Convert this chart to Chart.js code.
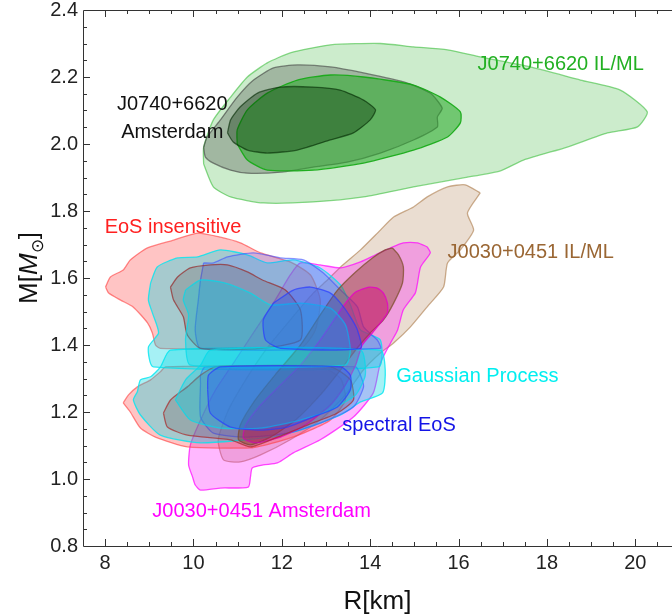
<!DOCTYPE html>
<html><head><meta charset="utf-8">
<script src="https://cdn.jsdelivr.net/npm/chart.js@4.4.1/dist/chart.umd.min.js"></script>
<style>html,body{margin:0;padding:0;background:#fff;}</style>
</head><body>
<canvas id="c" width="672" height="615"></canvas>
<script>
// ---- axis ticks ----
const xTicks = [8, 10, 12, 14, 16, 18, 20];
const yTicks = [0.8, 1.0, 1.2, 1.4, 1.6, 1.8, 2.0, 2.2, 2.4];

// ---- contours [R km, M Msun] ----
const j0740ILML_95 = [[10.23,1.94],[10.45,1.872],[10.84,1.842],[11.58,1.824],[12.71,1.827],[13.85,1.842],[14.98,1.872],[16.11,1.899],[16.95,1.92],[17.47,1.952],[18.46,1.991],[19.37,2.033],[20.05,2.051],[20.27,2.096],[19.66,2.161],[18.76,2.191],[17.62,2.23],[16.49,2.26],[15.75,2.281],[14.98,2.29],[14.23,2.30],[13.1,2.296],[12.19,2.272],[11.67,2.242],[11.22,2.20],[10.84,2.14],[10.45,2.072],[10.23,1.991]];
const j0740ILML_68 = [[10.99,2.0],[11.22,1.952],[11.67,1.922],[12.71,1.922],[13.85,1.943],[14.98,1.982],[15.75,2.021],[16.04,2.063],[16.04,2.096],[15.59,2.14],[14.98,2.176],[13.85,2.20],[13.1,2.206],[12.35,2.191],[11.67,2.152],[11.22,2.102],[10.99,2.042]];
const j0740Ams_95 = [[10.23,1.99],[10.27,1.961],[10.45,1.943],[10.84,1.922],[11.22,1.913],[11.97,1.916],[12.71,1.931],[13.48,1.946],[14.23,1.973],[14.98,2.012],[15.52,2.051],[15.52,2.081],[15.63,2.107],[15.36,2.152],[14.84,2.182],[13.85,2.212],[13.1,2.23],[12.35,2.236],[11.81,2.227],[11.36,2.191],[10.99,2.14],[10.61,2.072],[10.31,2.021]];
const j0740Ams_68 = [[10.77,2.033],[10.9,2.006],[11.22,1.982],[11.67,1.973],[12.35,1.982],[13.1,2.012],[13.62,2.033],[14.0,2.072],[14.12,2.102],[13.85,2.131],[13.32,2.161],[12.71,2.17],[11.97,2.17],[11.45,2.152],[11.06,2.111],[10.84,2.072]];

const j0030ILML_95 = [[16.49,1.854],[16.2,1.794],[16.34,1.743],[16.04,1.684],[15.75,1.645],[15.66,1.573],[15.29,1.514],[14.91,1.454],[14.53,1.406],[14.23,1.376],[13.85,1.326],[13.44,1.251],[12.87,1.176],[12.19,1.117],[11.52,1.072],[11.06,1.051],[10.68,1.057],[10.56,1.117],[10.79,1.206],[11.18,1.296],[11.63,1.385],[12.19,1.475],[12.71,1.555],[13.03,1.594],[13.33,1.633],[13.78,1.684],[14.23,1.743],[14.53,1.782],[14.98,1.812],[15.29,1.842],[15.75,1.872],[16.15,1.878]];
const j0030ILML_68 = [[14.5,1.69],[14.64,1.669],[14.75,1.633],[14.73,1.585],[14.53,1.525],[14.3,1.475],[14.0,1.436],[13.67,1.385],[13.33,1.326],[12.87,1.251],[12.31,1.176],[11.74,1.125],[11.29,1.102],[11.02,1.117],[11.06,1.161],[11.4,1.236],[11.85,1.311],[12.42,1.40],[12.87,1.49],[13.26,1.564],[13.67,1.618],[14.05,1.66],[14.34,1.684]];
const j0030Ams_95 = [[15.29,1.693],[15.07,1.705],[14.75,1.705],[14.46,1.69],[14.12,1.669],[13.78,1.648],[13.33,1.63],[12.87,1.639],[12.42,1.645],[12.19,1.609],[11.85,1.534],[11.4,1.445],[10.95,1.355],[10.5,1.266],[10.16,1.176],[9.93,1.102],[9.89,1.042],[9.98,1.006],[10.04,0.982],[10.16,0.967],[10.61,0.973],[11.24,0.976],[11.29,1.006],[11.33,1.033],[11.58,1.042],[11.9,1.048],[12.26,1.078],[12.87,1.117],[13.62,1.185],[14.07,1.257],[14.23,1.346],[14.46,1.406],[14.62,1.445],[14.75,1.505],[15.02,1.555],[15.07,1.585],[15.14,1.633],[15.36,1.675]];
const j0030Ams_68 = [[13.96,1.573],[14.16,1.57],[14.3,1.555],[14.39,1.525],[14.39,1.496],[14.23,1.466],[14.05,1.436],[13.82,1.40],[13.67,1.34],[13.44,1.281],[13.1,1.221],[12.53,1.161],[11.97,1.125],[11.4,1.108],[11.13,1.122],[11.18,1.161],[11.52,1.221],[11.97,1.281],[12.42,1.34],[12.87,1.415],[13.21,1.481],[13.44,1.525],[13.67,1.558]];

const eosIns95Hi = [[8.01,1.573],[8.12,1.603],[8.41,1.624],[8.57,1.654],[8.96,1.69],[9.55,1.713],[10.09,1.734],[10.61,1.722],[11.06,1.705],[11.52,1.675],[12.19,1.648],[12.65,1.609],[12.87,1.534],[12.76,1.445],[12.42,1.39],[9.25,1.39],[9.14,1.40],[9.07,1.436],[8.96,1.466],[8.64,1.513],[8.35,1.534],[8.08,1.555]];
const eosIns95Lo = [[8.41,1.227],[8.57,1.20],[8.8,1.152],[9.14,1.125],[9.86,1.096],[11.29,1.093],[11.9,1.111],[12.49,1.137],[13.1,1.176],[13.44,1.236],[13.33,1.30],[12.87,1.335],[9.37,1.335],[9.25,1.32],[9.03,1.296],[8.73,1.275],[8.53,1.251]];
const eosIns68Hi = [[9.48,1.573],[9.64,1.603],[9.93,1.63],[10.38,1.639],[10.77,1.639],[11.22,1.618],[11.56,1.594],[12.08,1.564],[12.42,1.505],[12.42,1.415],[11.52,1.39],[10.16,1.39],[9.86,1.43],[9.77,1.484],[9.55,1.534]];
const eosIns68Lo = [[9.32,1.197],[9.48,1.236],[9.86,1.275],[10.16,1.31],[10.5,1.335],[13.1,1.335],[13.55,1.296],[13.62,1.236],[13.26,1.197],[12.58,1.161],[11.9,1.125],[11.29,1.096],[10.84,1.117],[9.86,1.131],[9.41,1.155]];

const gp95Hi = [[9.03,1.585],[9.18,1.633],[9.64,1.66],[10.09,1.663],[10.61,1.684],[11.22,1.669],[11.67,1.645],[12.26,1.654],[12.87,1.63],[13.33,1.579],[13.55,1.52],[13.78,1.445],[14.23,1.415],[14.19,1.335],[9.09,1.335],[8.98,1.394],[9.21,1.436],[9.07,1.496],[8.98,1.534]];
const gp95Lo = [[8.73,1.26],[8.8,1.296],[9.03,1.305],[9.25,1.334],[9.48,1.385],[14.23,1.385],[14.34,1.326],[14.28,1.257],[13.78,1.23],[13.33,1.191],[12.42,1.146],[11.74,1.125],[10.16,1.108],[9.25,1.131],[8.8,1.191],[8.64,1.236]];
const gp68Hi = [[9.82,1.564],[10.16,1.594],[10.72,1.585],[11.29,1.555],[11.74,1.52],[12.42,1.525],[13.1,1.51],[13.44,1.46],[13.55,1.385],[13.44,1.34],[9.93,1.34],[9.82,1.415],[9.89,1.49],[9.77,1.534]];
const gp68Lo = [[9.59,1.236],[9.82,1.296],[10.16,1.34],[10.38,1.385],[13.78,1.385],[13.89,1.311],[13.67,1.251],[13.1,1.206],[12.42,1.176],[11.52,1.152],[10.61,1.152],[9.93,1.176]];

const spec95Hi = [[10.23,1.645],[10.45,1.645],[10.77,1.663],[11.36,1.675],[11.97,1.66],[12.49,1.654],[12.94,1.615],[13.33,1.564],[13.71,1.514],[13.85,1.454],[14.16,1.415],[14.23,1.39],[10.16,1.39],[10.04,1.445],[10.11,1.534],[10.16,1.594]];
const spec95Lo = [[10.16,1.286],[10.16,1.185],[10.45,1.137],[11.22,1.125],[12.13,1.137],[12.87,1.167],[13.62,1.215],[13.85,1.275],[13.78,1.31],[13.67,1.335],[10.27,1.335],[10.16,1.31]];
const spec68Hi = [[11.81,1.525],[12.26,1.564],[12.65,1.573],[13.1,1.555],[13.33,1.525],[13.55,1.484],[13.71,1.445],[13.78,1.39],[11.97,1.39],[11.63,1.415],[11.58,1.475]];
const spec68Lo = [[10.32,1.266],[10.38,1.197],[10.84,1.155],[11.52,1.146],[12.13,1.155],[12.71,1.185],[13.26,1.215],[13.55,1.266],[13.55,1.31],[13.33,1.335],[10.61,1.335],[10.34,1.31]];

// ---- text labels ----
const labelTexts = ["J0740+6620 IL/ML", "J0740+6620", "Amsterdam", "EoS insensitive", "J0030+0451 IL/ML", "Gaussian Process", "spectral EoS", "J0030+0451 Amsterdam"];
const labelR = [16.43, 9.52, 9.52, 7.99, 15.75, 14.59, 13.37, 9.07];
const labelM = [2.221, 2.102, 2.018, 1.734, 1.66, 1.29, 1.143, 0.887];
const labelColors = ["#22b022", "#111111", "#111111", "#ff2020", "#9a6633", "#00eef0", "#1414e6", "#ff00ff"];
const labelAlign = ["left", "center", "center", "left", "left", "left", "left", "left"];

function closed(pts){ const d = pts.map(p => ({x:p[0], y:p[1]})); d.push({x:pts[0][0], y:pts[0][1]}); return d; }
function region(label, pts, fill, border, w){
  return {label, data: closed(pts), fill:'shape', backgroundColor: fill, borderColor: border,
          borderWidth: w || 1.3, pointRadius: 0, pointHoverRadius: 0, tension: 0.2};
}

// bottom-to-top drawing order
const layers = [
  region('J0740 IL/ML 95', j0740ILML_95, 'rgba(50,180,50,0.25)', 'rgba(60,190,60,0.6)'),
  region('J0740 Ams 95', j0740Ams_95, 'rgba(60,60,60,0.30)', 'rgba(60,60,60,0.6)'),
  region('J0740 IL/ML 68', j0740ILML_68, 'rgba(40,170,40,0.55)', 'rgba(20,170,20,0.9)'),
  region('J0740 Ams 68', j0740Ams_68, 'rgba(0,40,0,0.35)', 'rgba(0,40,0,0.6)'),
  region('J0030 IL/ML 95', j0030ILML_95, 'rgba(170,120,70,0.25)', 'rgba(170,120,70,0.6)'),
  region('J0030 Ams 95', j0030Ams_95, 'rgba(255,0,255,0.28)', 'rgba(255,0,255,0.7)'),
  region('EoS ins 95 hi', eosIns95Hi, 'rgba(255,60,60,0.30)', 'rgba(255,60,60,0.6)'),
  region('EoS ins 95 lo', eosIns95Lo, 'rgba(255,60,60,0.30)', 'rgba(255,60,60,0.6)'),
  region('GP 95 hi', gp95Hi, 'rgba(0,215,225,0.35)', 'rgba(0,230,240,0.8)'),
  region('GP 95 lo', gp95Lo, 'rgba(0,215,225,0.35)', 'rgba(0,230,240,0.8)'),
  region('spec 95 hi', spec95Hi, 'rgba(70,90,255,0.22)', 'rgba(60,80,255,0.6)'),
  region('spec 95 lo', spec95Lo, 'rgba(70,90,255,0.22)', 'rgba(60,80,255,0.6)'),
  region('J0030 IL/ML 68', j0030ILML_68, 'rgba(140,70,40,0.45)', 'rgba(130,80,50,0.8)'),
  region('J0030 Ams 68', j0030Ams_68, 'rgba(220,0,130,0.40)', 'rgba(230,0,200,0.8)'),
  region('EoS ins 68 hi', eosIns68Hi, 'rgba(100,60,60,0.22)', 'rgba(150,40,40,0.7)'),
  region('EoS ins 68 lo', eosIns68Lo, 'rgba(100,60,60,0.22)', 'rgba(170,40,40,0.7)'),
  region('GP 68 hi', gp68Hi, 'rgba(0,205,225,0.35)', 'rgba(0,220,235,0.7)'),
  region('GP 68 lo', gp68Lo, 'rgba(0,205,225,0.35)', 'rgba(0,220,235,0.7)'),
  region('spec 68 hi', spec68Hi, 'rgba(30,90,255,0.35)', 'rgba(40,60,255,0.7)'),
  region('spec 68 lo', spec68Lo, 'rgba(30,90,255,0.35)', 'rgba(40,60,255,0.7)')
];
layers.forEach((d, i) => { d.order = layers.length - i; });

const FONT = '"Liberation Sans", Arial, sans-serif';

const framePlugin = {
  id: 'frame',
  afterDatasetsDraw(chart) {
    const {ctx, chartArea: a, scales: {x, y}} = chart;
    ctx.save();
    ctx.strokeStyle = '#333';
    ctx.lineWidth = 1;
    ctx.beginPath();
    ctx.moveTo(a.right, a.top + 0.5); ctx.lineTo(a.left + 0.5, a.top + 0.5);
    ctx.lineTo(a.left + 0.5, a.bottom + 0.5); ctx.lineTo(a.right, a.bottom + 0.5);
    for (let k = 16; k <= 41; k++) {
      const v = k / 2;
      const px = Math.round(x.getPixelForValue(v)) + 0.5;
      if (px <= a.left + 1 || px >= a.right) continue;
      const L = (k % 4 === 0) ? 7 : 4;
      ctx.moveTo(px, a.bottom); ctx.lineTo(px, a.bottom - L);
      ctx.moveTo(px, a.top); ctx.lineTo(px, a.top + L);
    }
    for (let k = 16; k <= 48; k++) {
      const v = k / 20;
      const py = Math.round(y.getPixelForValue(v)) + 0.5;
      if (py <= a.top + 1 || py >= a.bottom) continue;
      const L = (k % 4 === 0) ? 7 : 4;
      ctx.moveTo(a.left, py); ctx.lineTo(a.left + L, py);
    }
    ctx.stroke();

    ctx.font = '20px ' + FONT;
    ctx.textBaseline = 'alphabetic';
    labelTexts.forEach((t, i) => {
      ctx.fillStyle = labelColors[i];
      ctx.textAlign = labelAlign[i];
      ctx.fillText(t, x.getPixelForValue(labelR[i]), y.getPixelForValue(labelM[i]));
    });

    ctx.fillStyle = '#111';
    ctx.textAlign = 'center';
    ctx.font = '26px ' + FONT;
    ctx.fillText('R[km]', (a.left + a.right) / 2, 609);

    ctx.translate(37, 268);
    ctx.rotate(-Math.PI / 2);
    const parts = [['M[', '26px ' + FONT, 0], ['M', 'italic 26px ' + FONT, 0], ['\u2299', '17px ' + FONT, 6], [']', '26px ' + FONT, 0]];
    let w = 0;
    parts.forEach(p => { ctx.font = p[1]; w += ctx.measureText(p[0]).width; });
    let cx = -w / 2;
    ctx.textAlign = 'left';
    parts.forEach(p => { ctx.font = p[1]; ctx.fillText(p[0], cx, p[2]); cx += ctx.measureText(p[0]).width; });
    ctx.restore();
  }
};

new Chart(document.getElementById('c'), {
  type: 'line',
  data: { datasets: layers },
  options: {
    responsive: false,
    animation: false,
    devicePixelRatio: 1,
    layout: { padding: { top: 10, right: 0, left: 0, bottom: 0 } },
    plugins: { legend: { display: false }, tooltip: { enabled: false } },
    elements: { line: { borderJoinStyle: 'round' } },
    scales: {
      x: {
        type: 'linear', min: 7.5, max: 20.83,
        afterBuildTicks: s => { s.ticks = xTicks.map(v => ({value: v})); },
        afterFit: s => { s.height = 69; s.paddingLeft = 0; s.paddingRight = 0; },
        grid: { display: false, drawTicks: false },
        border: { display: false },
        ticks: { font: { family: FONT, size: 20 }, color: '#222', padding: 5, maxRotation: 0, callback: v => String(v) }
      },
      y: {
        type: 'linear', min: 0.8, max: 2.4,
        afterBuildTicks: s => { s.ticks = yTicks.map(v => ({value: v})); },
        afterFit: s => { s.width = 83; s.paddingTop = 0; s.paddingBottom = 0; },
        grid: { display: false, drawTicks: false },
        border: { display: false },
        ticks: { font: { family: FONT, size: 20 }, color: '#222', padding: 5, callback: v => v.toFixed(1) }
      }
    }
  },
  plugins: [framePlugin]
});
</script>
</body></html>
